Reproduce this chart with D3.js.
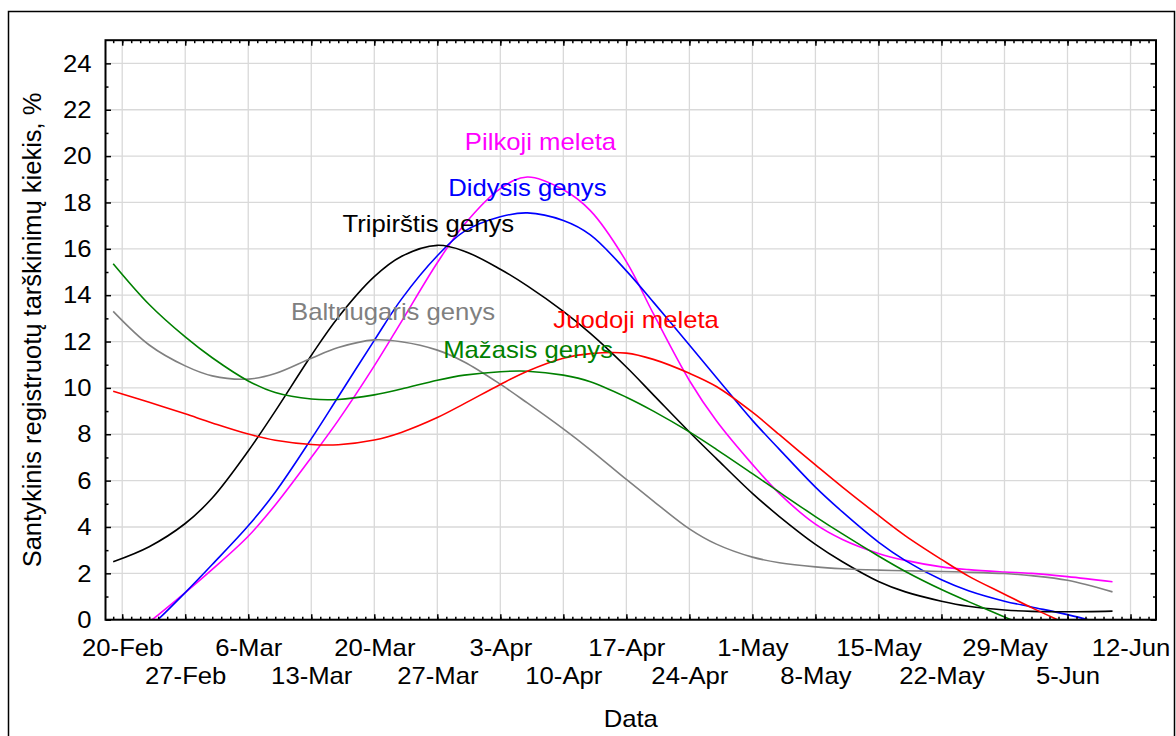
<!DOCTYPE html>
<html>
<head>
<meta charset="utf-8">
<script src="https://cdn.jsdelivr.net/npm/d3@7"></script>
<style>
  html, body { margin: 0; padding: 0; background: #fff; }
  svg { display: block; font-family: "Liberation Sans", Arial, sans-serif; }
</style>
</head>
<body>
<svg id="chart" width="1176" height="736"></svg>
<script>
// Observation dates shared by all six series
const dates = ["2009-02-19", "2009-02-23", "2009-02-27", "2009-03-02", "2009-03-06", "2009-03-09",
  "2009-03-13", "2009-03-16", "2009-03-20", "2009-03-23", "2009-03-27", "2009-03-30",
  "2009-04-03", "2009-04-06", "2009-04-10", "2009-04-13", "2009-04-17", "2009-04-20",
  "2009-04-24", "2009-04-27", "2009-05-01", "2009-05-04", "2009-05-08", "2009-05-11",
  "2009-05-15", "2009-05-18", "2009-05-22", "2009-05-25", "2009-05-29", "2009-06-01",
  "2009-06-05", "2009-06-10"];

// Relative share of registered drumming, %
const tripirstis = [2.5, 3.15, 4.15, 5.25, 7.28, 9.0, 11.4, 13.05, 14.8, 15.67, 16.15, 15.9,
  15.12, 14.4, 13.3, 12.35, 10.9, 9.7, 8.1, 6.95, 5.45, 4.45, 3.25, 2.5,
  1.65, 1.2, 0.8, 0.58, 0.42, 0.36, 0.34, 0.37];
const didysis = [-1.75, -0.36, 1.17, 2.38, 4.05, 5.5, 7.8, 9.62, 12.05, 13.82, 15.7, 16.75,
  17.38, 17.55, 17.22, 16.6, 15.05, 13.7, 11.85, 10.45, 8.6, 7.35, 5.72, 4.65,
  3.35, 2.55, 1.72, 1.25, 0.8, 0.55, 0.22, -0.28];
const pilkoji = [-1.25, -0.1, 1.17, 2.17, 3.6, 4.95, 7.0, 8.6, 10.95, 12.85, 15.4, 17.05,
  18.6, 19.1, 18.55, 17.65, 15.45, 13.2, 10.32, 8.58, 6.7, 5.44, 4.12, 3.46,
  2.86, 2.56, 2.28, 2.16, 2.06, 2.0, 1.86, 1.64];
const juodoji = [9.86, 9.38, 8.88, 8.49, 8.01, 7.74, 7.56, 7.55, 7.75, 8.08, 8.72, 9.32,
  10.15, 10.72, 11.28, 11.48, 11.5, 11.23, 10.63, 10.06, 8.95, 7.98, 6.68, 5.72,
  4.5, 3.62, 2.6, 1.88, 1.1, 0.52, -0.2, -1.1];
const mazasis = [15.36, 13.6, 12.2, 11.3, 10.3, 9.8, 9.52, 9.5, 9.7, 9.95, 10.33, 10.55,
  10.7, 10.72, 10.55, 10.27, 9.6, 9.0, 8.1, 7.35, 6.3, 5.5, 4.45, 3.7,
  2.75, 2.08, 1.3, 0.78, 0.12, -0.38, -1.05, -1.9];
const baltnugaris = [13.3, 11.85, 10.95, 10.52, 10.38, 10.62, 11.28, 11.74, 12.07, 11.99, 11.63, 11.12,
  10.16, 9.35, 8.23, 7.33, 6.05, 5.12, 3.92, 3.26, 2.7, 2.46, 2.28, 2.2,
  2.14, 2.11, 2.08, 2.05, 1.99, 1.9, 1.7, 1.2];

const seriesNames = ["Pilkoji meleta", "Didysis genys", "Tripirštis genys", "Baltnugaris genys", "Mažasis genys", "Juodoji meleta"];
const seriesValues = [pilkoji, didysis, tripirstis, baltnugaris, mazasis, juodoji];
const seriesColors = ["#ff00ff", "#0000ff", "#000000", "#808080", "#008000", "#ff0000"];
// Anchor (date, value) of each series name: centre of the text baseline
const labelDates = ["2009-04-07T11", "2009-04-06T00", "2009-03-26T00", "2009-03-22T02", "2009-04-06T02", "2009-04-18T02"];
const labelValues = [20.26, 18.27, 16.71, 12.93, 11.28, 12.57];

// Axis ticks
const xTickDates = ["2009-02-20", "2009-02-27", "2009-03-06", "2009-03-13", "2009-03-20", "2009-03-27",
  "2009-04-03", "2009-04-10", "2009-04-17", "2009-04-24", "2009-05-01", "2009-05-08",
  "2009-05-15", "2009-05-22", "2009-05-29", "2009-06-05", "2009-06-12"];
const yTicks = [0, 2, 4, 6, 8, 10, 12, 14, 16, 18, 20, 22, 24];
const yMinorTicks = [1, 3, 5, 7, 9, 11, 13, 15, 17, 19, 21, 23];

const xTitle = "Data";
const yTitle = "Santykinis registruotų tarškinimų kiekis, %";

// ---- layout ----
const parse = d3.utcParse("%Y-%m-%d");
const parseHour = d3.utcParse("%Y-%m-%dT%H");
const fmt = d3.utcFormat("%-d-%b");
const plot = { left: 105.5, top: 40.2, right: 1156, bottom: 619.7 };
const DAY = 864e5;
const FONT = 24;
const SX = 1.07;   // glyphs are drawn slightly wide

const x = d3.scaleUtc()
  .domain([new Date(parse("2009-02-20").getTime() - 1.855 * DAY),
           new Date(parse("2009-02-20").getTime() + 114.83 * DAY)])
  .range([plot.left, plot.right]);
const y = d3.scaleLinear().domain([0, 25]).range([plot.bottom, plot.top]);

const svg = d3.select("#chart");

// outer frame
svg.append("rect")
  .attr("x", 8.5).attr("y", 11.5).attr("width", 1166).attr("height", 800)
  .attr("fill", "none").attr("stroke", "#000").attr("stroke-width", 1.5);

// grid
const grid = svg.append("g").attr("stroke", "#d9d9d9").attr("stroke-width", 1.3);
grid.selectAll("line.v").data(xTickDates.map(parse)).join("line")
  .attr("x1", d => x(d)).attr("x2", d => x(d))
  .attr("y1", plot.top).attr("y2", plot.bottom);
grid.selectAll("line.h").data(yTicks.filter(v => v > 0)).join("line")
  .attr("x1", plot.left).attr("x2", plot.right)
  .attr("y1", d => y(d)).attr("y2", d => y(d));

// clip for the curves
svg.append("clipPath").attr("id", "plotClip").append("rect")
  .attr("x", plot.left).attr("y", plot.top)
  .attr("width", plot.right - plot.left).attr("height", plot.bottom - plot.top);

const line = d3.line()
  .x(d => x(d[0])).y(d => y(d[1]))
  .curve(d3.curveCatmullRom.alpha(0.5));

const parsedDates = dates.map(parse);
const curves = svg.append("g").attr("clip-path", "url(#plotClip)");
seriesValues.forEach((vals, i) => {
  curves.append("path")
    .datum(parsedDates.map((d, j) => [d, vals[j]]))
    .attr("fill", "none")
    .attr("stroke", seriesColors[i])
    .attr("stroke-width", 1.6)
    .attr("d", line);
});

// series names
svg.append("g").selectAll("text").data(seriesNames).join("text")
  .attr("transform", (d, i) =>
    `translate(${x(parseHour(labelDates[i]))},${y(labelValues[i])}) scale(${SX},1)`)
  .attr("text-anchor", "middle")
  .attr("font-size", FONT)
  .attr("fill", (d, i) => seriesColors[i])
  .text(d => d);

// axes
const axisStyle = g => {
  g.select(".domain").remove();
  g.selectAll(".tick line").attr("stroke", "#000").attr("stroke-width", 1.5);
};

const xMinor = d3.utcDay.range(x.domain()[0], x.domain()[1]);
svg.append("g").attr("transform", `translate(0,${plot.bottom})`)
  .call(d3.axisBottom(x).tickValues(xMinor).tickSize(-3).tickFormat(""))
  .call(axisStyle);
svg.append("g").attr("transform", `translate(0,${plot.top})`)
  .call(d3.axisTop(x).tickValues(xMinor).tickSize(-3).tickFormat(""))
  .call(axisStyle);
svg.append("g").attr("transform", `translate(0,${plot.top})`)
  .call(d3.axisTop(x).tickValues(xTickDates.map(parse)).tickSize(-5.5).tickFormat(""))
  .call(axisStyle);

const xAxis = svg.append("g").attr("transform", `translate(0,${plot.bottom})`)
  .call(d3.axisBottom(x).tickValues(xTickDates.map(parse)).tickSize(-5.5).tickFormat(fmt))
  .call(axisStyle);
xAxis.selectAll(".tick text")
  .attr("fill", "#000").attr("font-size", FONT)
  .attr("dy", null)
  .attr("y", (d, i) => i % 2 === 0 ? 36 : 64.5)
  .attr("transform", `scale(${SX},1)`);

const yAxis = svg.append("g").attr("transform", `translate(${plot.left},0)`)
  .call(d3.axisLeft(y).tickValues(yTicks).tickSize(-5.5).tickPadding(14))
  .call(axisStyle);
yAxis.selectAll(".tick text")
  .attr("fill", "#000").attr("font-size", FONT)
  .attr("x", -14 / SX)
  .attr("transform", `scale(${SX},1)`);
svg.append("g").attr("transform", `translate(${plot.left},0)`)
  .call(d3.axisLeft(y).tickValues(yMinorTicks).tickSize(-3).tickFormat(""))
  .call(axisStyle);
svg.append("g").attr("transform", `translate(${plot.right},0)`)
  .call(d3.axisRight(y).tickValues(yTicks).tickSize(-5.5).tickFormat(""))
  .call(axisStyle);
svg.append("g").attr("transform", `translate(${plot.right},0)`)
  .call(d3.axisRight(y).tickValues(yMinorTicks).tickSize(-3).tickFormat(""))
  .call(axisStyle);

// plot border
svg.append("rect")
  .attr("x", plot.left).attr("y", plot.top)
  .attr("width", plot.right - plot.left).attr("height", plot.bottom - plot.top)
  .attr("fill", "none").attr("stroke", "#000").attr("stroke-width", 2);

// axis titles
svg.append("text")
  .attr("transform", `translate(${(plot.left + plot.right) / 2},727) scale(${SX},1)`)
  .attr("text-anchor", "middle").attr("font-size", FONT)
  .text(xTitle);
svg.append("text")
  .attr("transform", `translate(41,${(plot.top + plot.bottom) / 2}) rotate(-90)`)
  .attr("text-anchor", "middle").attr("font-size", 25.5)
  .text(yTitle);
</script>
</body>
</html>
